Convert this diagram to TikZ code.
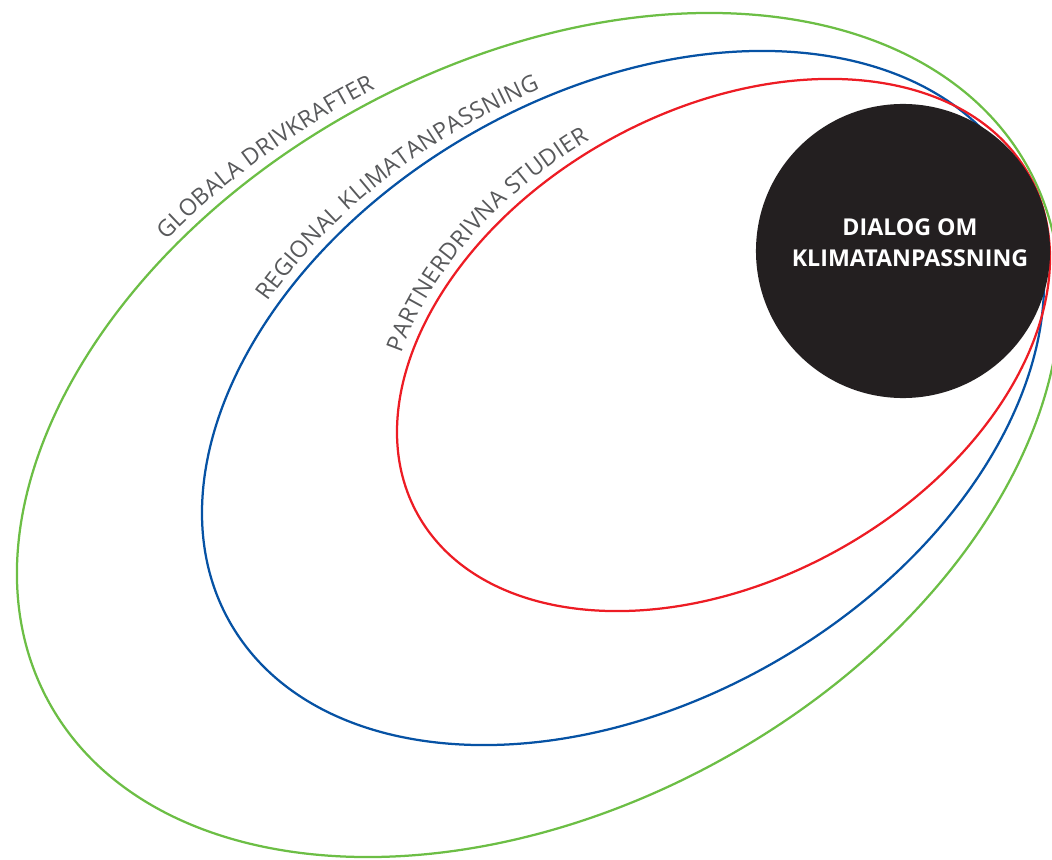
\documentclass[tikz,border=0pt]{standalone}
\usepackage{fontspec}
\newfontfamily\opensans{Open Sans}
\usetikzlibrary{decorations.text}
\definecolor{globalgreen}{HTML}{6CBE45}
\definecolor{regionblue}{HTML}{0652A4}
\definecolor{partnerred}{HTML}{ED1C24}
\definecolor{dialogblack}{HTML}{231F20}
\definecolor{labelgray}{HTML}{58595B}
\newcommand\ringlabel{\opensans\fontsize{16.5}{18}\selectfont\color{labelgray}}
\tikzset{
  ring/.style={line width=1.6pt},
  ringtext/.style={decorate, decoration={text along path, text align=center, raise=7pt, text={|\ringlabel|#1}}},
  dialogcircle/.style={circle, fill=dialogblack, minimum size=7.35cm, inner sep=0pt},
  dialogtext/.style={text=white, align=center, font=\opensans\bfseries\fontsize{16.5}{22}\selectfont}
}
\begin{document}
\begin{tikzpicture}[x=0.025cm,y=0.025cm]
  \useasboundingbox (0,0) rectangle (1052,-860);
  \clip (0,0) rectangle (1052,-860);

  \begin{scope}[shift={(538.5,-435)}, rotate=28.5]
    \draw[ring, globalgreen] (0,0) ellipse [x radius=557.8, y radius=372.7];
    \path[ringtext={GLOBALA DRIVKRAFTER}] (135:557.8 and 372.7) arc [start angle=135, end angle=69, x radius=557.8, y radius=372.7];
  \end{scope}

  \begin{scope}[shift={(623,-398)}, rotate=29.8]
    \draw[ring, regionblue] (0,0) ellipse [x radius=452.6, y radius=304.6];
    \path[ringtext={REGIONAL KLIMATANPASSNING}] (140:452.6 and 304.6) arc [start angle=140, end angle=66, x radius=452.6, y radius=304.6];
  \end{scope}

  \begin{scope}[shift={(723.5,-345)}, rotate=28.9]
    \draw[ring, partnerred] (0,0) ellipse [x radius=349.6, y radius=234.8];
    \path[ringtext={PARTNERDRIVNA STUDIER}] (156:349.6 and 234.8) arc [start angle=156, end angle=83, x radius=349.6, y radius=234.8];
  \end{scope}

  \node[dialogcircle] (dialog) at (903,-251) {};
  \node[dialogtext] (dialoglabel) at (910,-243) {DIALOG OM\\KLIMATANPASSNING};
\end{tikzpicture}
\end{document}
